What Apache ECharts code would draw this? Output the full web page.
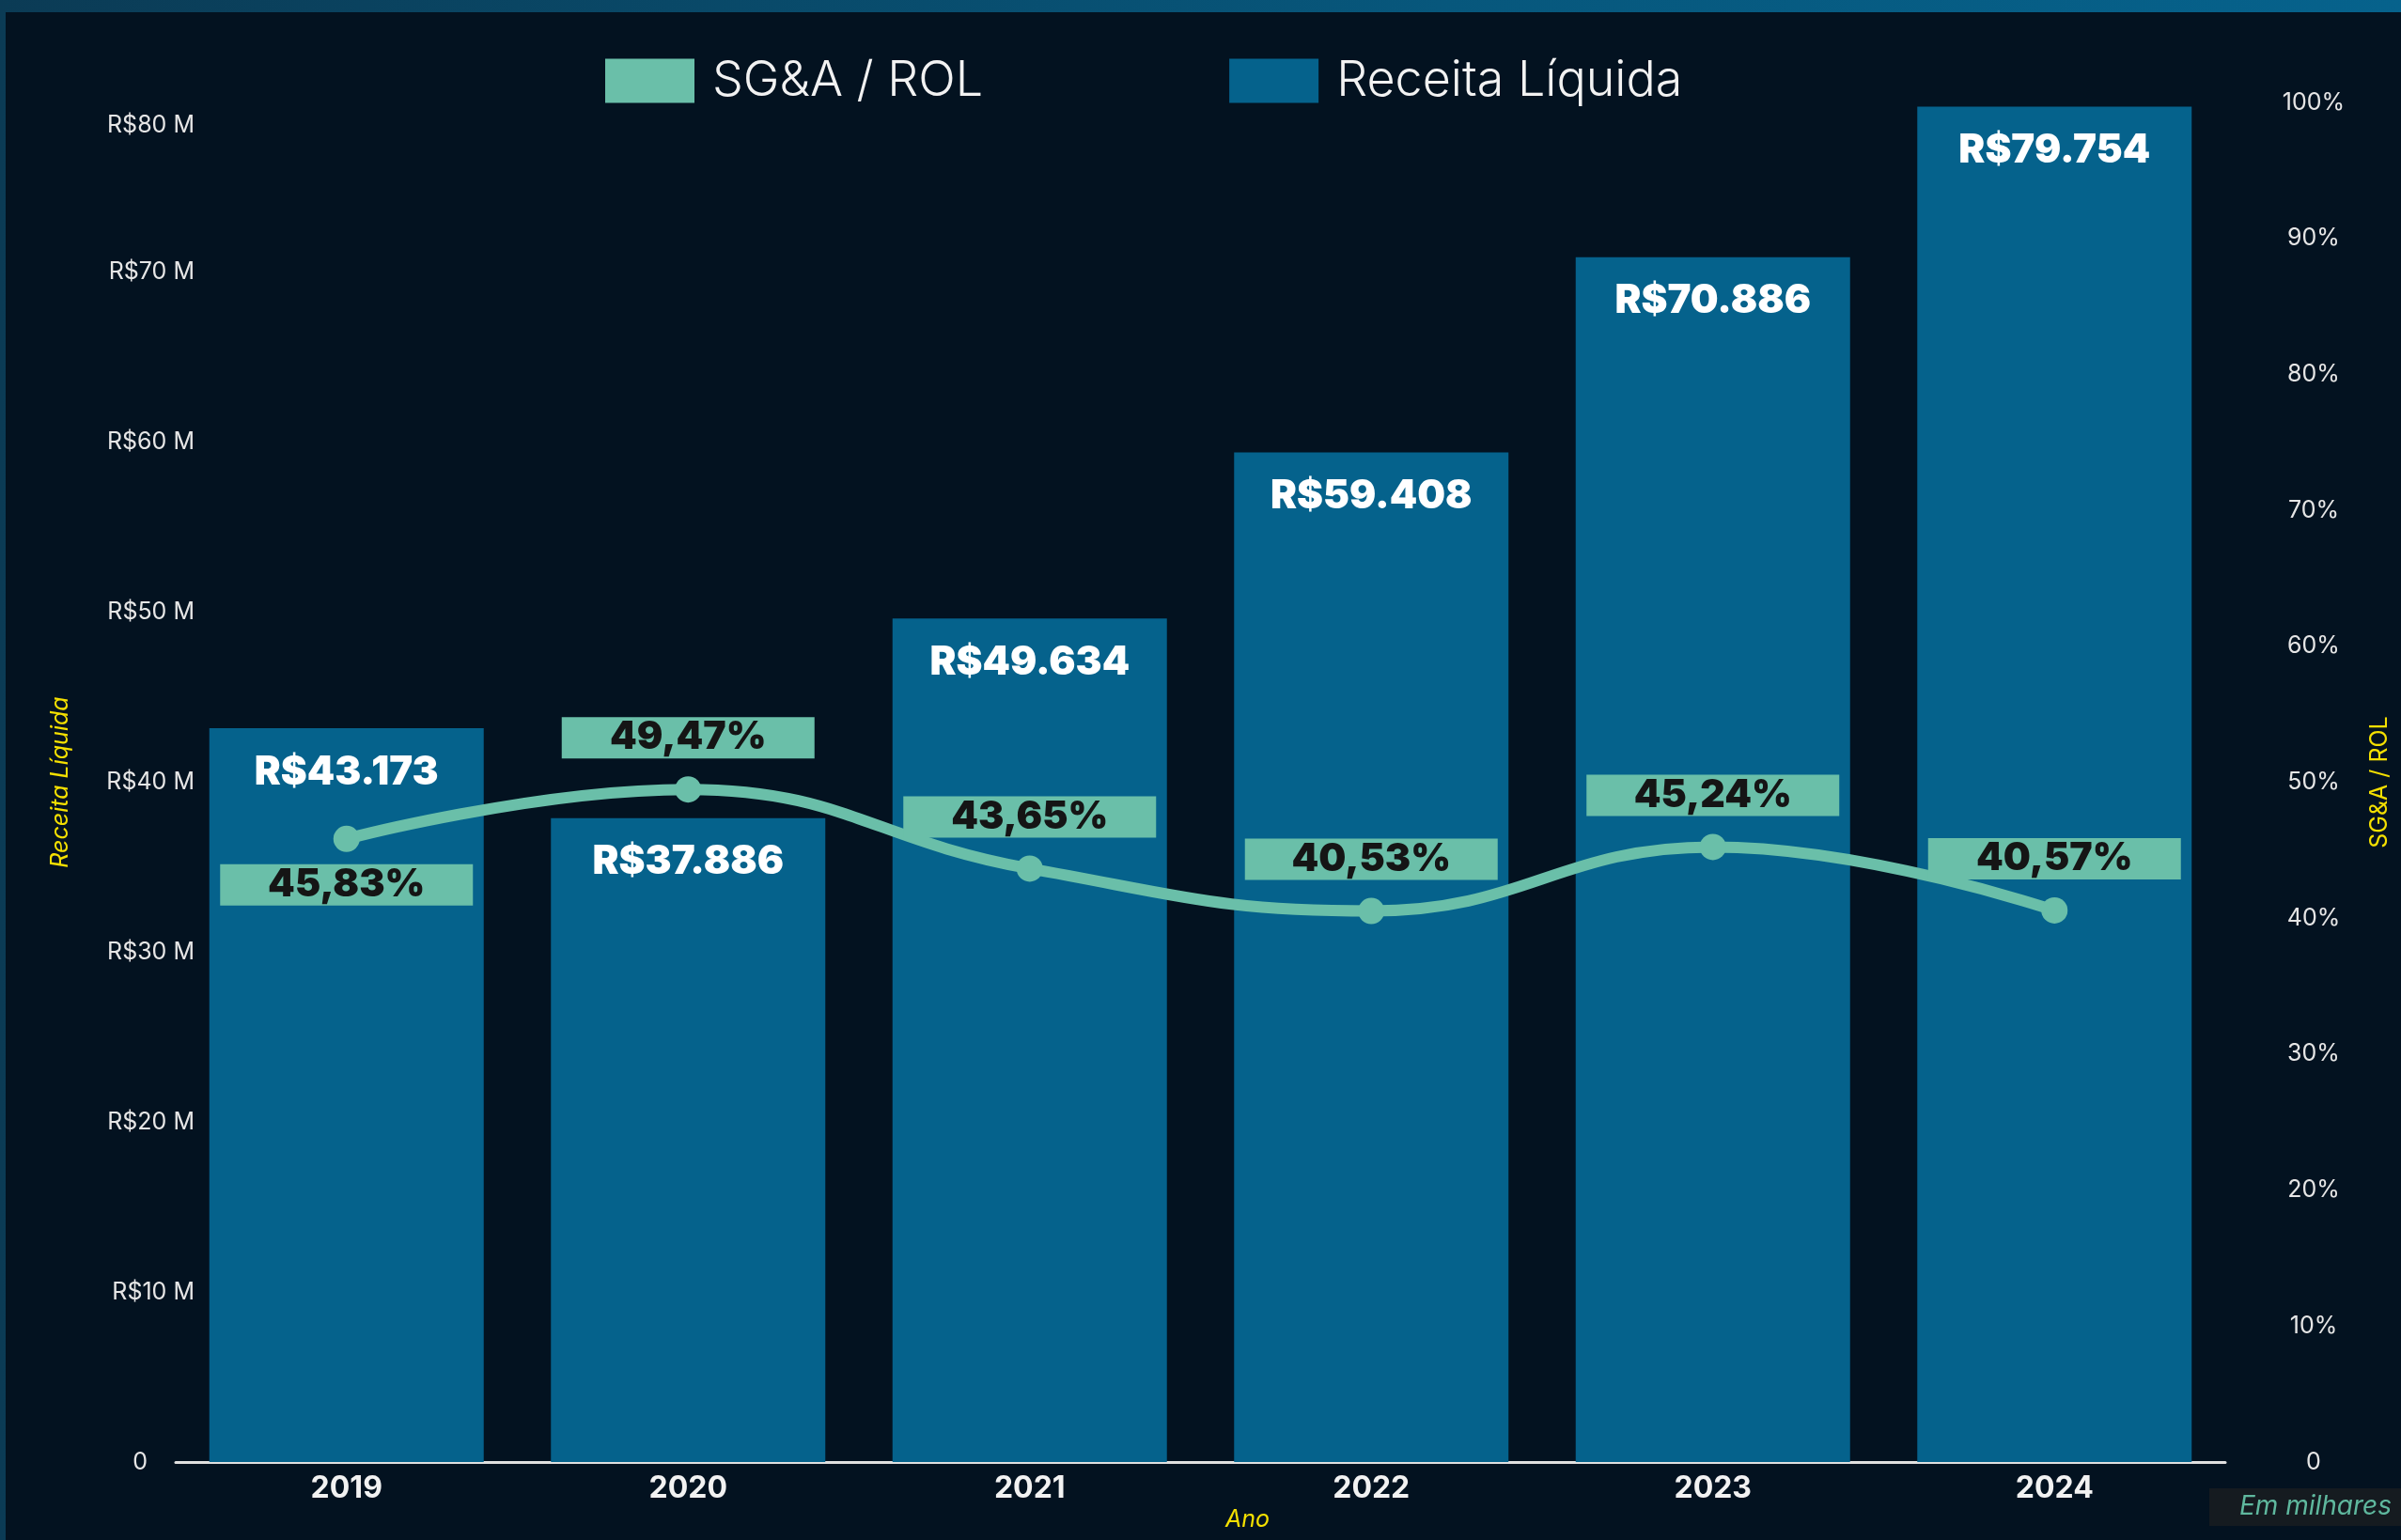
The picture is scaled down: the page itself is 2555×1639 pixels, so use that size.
<!DOCTYPE html>
<html>
<head>
<meta charset="utf-8">
<script src="https://cdn.jsdelivr.net/npm/echarts@6/dist/echarts.min.js"></script>
<style>
  html, body { margin: 0; padding: 0; width: 2555px; height: 1639px; overflow: hidden; }
  body { background: linear-gradient(90deg, #0b3b55 0%, #07577c 60%, #06628c 100%); position: relative; }
  #frame { position: absolute; left: 6px; top: 13px; right: 0; bottom: 0; background: #031220; }
  #chart { position: absolute; left: 0; top: 0; width: 2555px; height: 1639px; }
</style>
</head>
<body>
<div id="frame"></div>
<div id="chart"></div>
<script>
// dados (em milhões de R$ e % SG&A / ROL)
var anos = ['2019', '2020', '2021', '2022', '2023', '2024'];
var receitaLiquida = [43.173, 37.886, 49.634, 59.408, 70.886, 79.754];
var sgaRol = [45.83, 49.47, 43.65, 40.53, 45.24, 40.57];

var corBarra = '#05628c';
var corLinha = '#6abfa9';
var fonte = 'Inter, Lato, "Open Sans", sans-serif';

var chartDom = document.getElementById('chart');
var myChart = echarts.init(chartDom, null, { renderer: 'canvas' });

var option = {
  backgroundColor: 'transparent',
  textStyle: { fontFamily: fonte },
  legend: {
    left: 639,
    top: 55,
    icon: 'rect',
    itemWidth: 95,
    itemHeight: 47,
    itemGap: 262,
    data: ['SG&A / ROL', 'Receita Líquida'],
    textStyle: { color: '#f2f2f2', fontSize: 52, fontWeight: 300, padding: [0, 0, 0, 14], fontFamily: fonte }
  },
  title: {
    text: 'Em milhares',
    right: 0,
    top: 1584,
    backgroundColor: '#151b20',
    padding: [6, 10, 6, 32],
    textStyle: { color: '#5fb89e', fontSize: 28, fontStyle: 'italic', fontWeight: 'normal', fontFamily: fonte }
  },
  grid: { left: 187, right: 187, top: 109, bottom: 83, outerBoundsMode: 'none' },
  xAxis: {
    type: 'category',
    data: anos,
    name: 'Ano',
    nameLocation: 'middle',
    nameGap: 47,
    nameTextStyle: { color: '#f5e000', fontSize: 25, fontStyle: 'italic', padding: [0, 0, 0, 100] },
    axisLine: { lineStyle: { color: '#e0e0e0', width: 3 } },
    axisTick: { show: false },
    axisLabel: { color: '#f2f2f2', fontSize: 32, fontWeight: 'bold', margin: 12 }
  },
  yAxis: [
    {
      type: 'value',
      min: 0,
      max: 80,
      interval: 10,
      name: 'Receita Líquida',
      nameLocation: 'middle',
      nameRotate: 90,
      nameGap: 110,
      nameTextStyle: { color: '#f5e000', fontSize: 25, fontStyle: 'italic' },
      splitLine: { show: false },
      axisLine: { show: false },
      axisTick: { show: false },
      axisLabel: {
        color: '#e6e6e6',
        fontSize: 25,
        margin: -20,
        formatter: function (v) {
          if (v === 0) return '{zero|0}';
          if (v === 80) return '{topo|R$80 M}';
          return 'R$' + v + ' M';
        },
        rich: {
          zero: { fontSize: 25, color: '#e6e6e6', padding: [0, 50, 0, 0] },
          topo: { fontSize: 25, color: '#e6e6e6', padding: [49, 0, 0, 0] }
        }
      }
    },
    {
      type: 'value',
      min: 0,
      max: 100,
      interval: 10,
      name: 'SG&A / ROL',
      nameLocation: 'middle',
      nameRotate: 90,
      nameGap: 152,
      nameTextStyle: { color: '#f5e000', fontSize: 25 },
      splitLine: { show: false },
      axisLine: { show: false },
      axisTick: { show: false },
      axisLabel: {
        color: '#e6e6e6',
        fontSize: 25,
        align: 'center',
        margin: 94,
        formatter: function (v) { return v === 0 ? '0' : v + '%'; }
      }
    }
  ],
  series: [
    {
      name: 'Receita Líquida',
      type: 'bar',
      yAxisIndex: 0,
      barWidth: 292,
      itemStyle: { color: corBarra },
      data: receitaLiquida,
      label: {
        show: true,
        position: 'insideTop',
        distance: 26,
        color: '#ffffff',
        fontSize: 42,
        fontWeight: 900,
        formatter: function (p) { return 'R$' + p.value.toFixed(3); }
      },
      z: 2
    },
    {
      name: 'SG&A / ROL',
      type: 'line',
      yAxisIndex: 1,
      smooth: 0.45,
      symbol: 'circle',
      symbolSize: 28,
      lineStyle: { color: corLinha, width: 12 },
      itemStyle: { color: corLinha },
      data: sgaRol.map(function (v, i) {
        // o primeiro rótulo fica abaixo do ponto
        return i === 0 ? { value: v, label: { position: 'bottom', distance: 13 } } : v;
      }),
      label: {
        show: true,
        position: 'top',
        distance: 19,
        color: '#151515',
        fontSize: 41,
        fontWeight: 900,
        backgroundColor: corLinha,
        width: 269,
        height: 44,
        lineHeight: 44,
        align: 'center',
        formatter: function (p) { return p.value.toFixed(2).replace('.', ',') + '%'; }
      },
      z: 5
    }
  ]
};

myChart.setOption(option);
</script>
</body>
</html>
